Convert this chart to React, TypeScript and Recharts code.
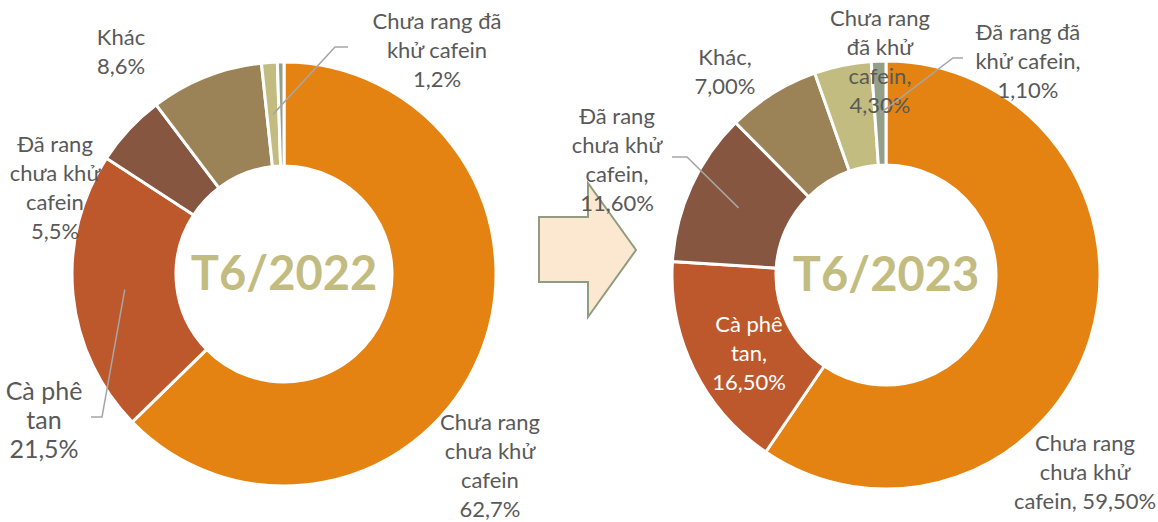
import React from 'react';
import { PieChart, Pie, Cell } from 'recharts';

// ---- data ----
const categories = [
  'Chưa rang chưa khử cafein',
  'Cà phê tan',
  'Đã rang chưa khử cafein',
  'Khác',
  'Chưa rang đã khử cafein',
  'Đã rang đã khử cafein',
];
const values2022 = [62.7, 21.5, 5.5, 8.6, 1.2, 0.5];
const values2023 = [59.5, 16.5, 11.6, 7.0, 4.3, 1.1];
const colors = ['#E48312', '#BD582C', '#865640', '#9B8357', '#C3BC80', '#939F87'];
const titles = ['T6/2022', 'T6/2023'];

// label text, "{v}" is replaced by the value
const lines2022 = [
  ['Chưa rang', 'chưa khử', 'cafein', '{v}'],
  ['Cà phê', 'tan', '{v}'],
  ['Đã rang', 'chưa khử', 'cafein', '{v}'],
  ['Khác', '{v}'],
  ['Chưa rang đã', 'khử cafein', '{v}'],
  [],
];
const lines2023 = [
  ['Chưa rang', 'chưa khử', 'cafein, {v}'],
  ['Cà phê', 'tan,', '{v}'],
  ['Đã rang', 'chưa khử', 'cafein,', '{v}'],
  ['Khác,', '{v}'],
  ['Chưa rang', 'đã khử', 'cafein,', '{v}'],
  ['Đã rang đã', 'khử cafein,', '{v}'],
];

// ---- label layout (offsets from the pie centre) ----
type Lay = { dx: number; dy: number; size?: number; fill?: string; leader?: number[][] } | null;
const layout2022: Lay[] = [
  { dx: 206, dy: 190 },
  { dx: -240, dy: 145, size: 25, leader: [[-182, 143], [-193, 143]] },
  { dx: -229, dy: -88 },
  { dx: -163, dy: -224 },
  { dx: 153, dy: -225, leader: [[51, -227], [64, -227]] },
  null,
];
const layout2023: Lay[] = [
  { dx: 199, dy: 196 },
  { dx: -137, dy: 77, fill: '#FFFFFF' },
  { dx: -269, dy: -117, leader: [[-199, -118], [-214, -118]] },
  { dx: -161, dy: -205 },
  { dx: -6, dy: -215 },
  { dx: 142, dy: -215, leader: [[67, -217], [77, -217]] },
];

const FONT = 'Lato, "Open Sans", sans-serif';
const RAD = Math.PI / 180;
const LINE_H = 29;

const makeLabel = (lines: string[][], layout: Lay[], digits: number, title: string) => (props: any) => {
  const { cx, cy, midAngle, innerRadius, outerRadius, index, value } = props;
  const L = layout[index];
  // the centre title goes with the first slice's label
  const center =
    index === 0 ? (
      <text
        x={cx}
        y={cy - 2}
        textAnchor="middle"
        dominantBaseline="central"
        fontFamily={FONT}
        fontWeight="bold"
        fontSize={47}
        fill="#C3BC80"
      >
        {title}
      </text>
    ) : null;
  if (!L) return <g key={'lbl' + index}>{center}</g>;
  const v = value.toFixed(digits).replace('.', ',') + '%';
  const txt = lines[index].map((s) => s.replace('{v}', v));
  const size = L.size || 22;
  const x = cx + L.dx;
  const y0 = cy + L.dy - ((txt.length - 1) * LINE_H) / 2;
  let leader = null;
  if (L.leader) {
    const r = (innerRadius + outerRadius) / 2;
    const sx = cx + r * Math.cos(-midAngle * RAD);
    const sy = cy + r * Math.sin(-midAngle * RAD);
    const pts = [[sx, sy], ...L.leader.map(([a, b]) => [cx + a, cy + b])];
    leader = (
      <polyline
        points={pts.map((p) => p.join(',')).join(' ')}
        fill="none"
        stroke="#A6A6A6"
        strokeWidth={1.5}
      />
    );
  }
  return (
    <g key={'lbl' + index}>
      {center}
      {leader}
      <text
        x={x}
        y={y0}
        textAnchor="middle"
        dominantBaseline="central"
        fontFamily={FONT}
        fontSize={size}
        fill={L.fill || '#595959'}
      >
        {txt.map((s, i) => (
          <tspan key={i} x={x} y={y0 + i * LINE_H}>
            {s}
          </tspan>
        ))}
      </text>
    </g>
  );
};

const toRows = (vals: number[]) => categories.map((name, i) => ({ name, value: vals[i] }));

export default function App() {
  return (
    <div style={{ position: 'absolute', left: 0, top: 0, width: 1158, height: 522, background: '#fff' }}>
      <svg width={1158} height={522} style={{ position: 'absolute', left: 0, top: 0 }}>
        <polygon
          points="539,217 588,217 588,183 636,250 588,317 588,282 539,282"
          fill="#FCE8D0"
          stroke="#8F9C7F"
          strokeWidth={2}
        />
      </svg>
      <div style={{ position: 'absolute', left: 0, top: 0 }}>
        <PieChart width={1158} height={522} margin={{ top: 0, right: 0, bottom: 0, left: 0 }}>
          <Pie
            data={toRows(values2022)}
            dataKey="value"
            nameKey="name"
            cx={284}
            cy={274}
            innerRadius={108}
            outerRadius={212}
            startAngle={90}
            endAngle={-270}
            stroke="#FFFFFF"
            strokeWidth={3}
            labelLine={false}
            label={makeLabel(lines2022, layout2022, 1, titles[0])}
            isAnimationActive={false}
          >
            {values2022.map((_, i) => (
              <Cell key={i} fill={colors[i]} />
            ))}
          </Pie>
          <Pie
            data={toRows(values2023)}
            dataKey="value"
            nameKey="name"
            cx={886}
            cy={275}
            innerRadius={110}
            outerRadius={214}
            startAngle={90}
            endAngle={-270}
            stroke="#FFFFFF"
            strokeWidth={3}
            labelLine={false}
            label={makeLabel(lines2023, layout2023, 2, titles[1])}
            isAnimationActive={false}
          >
            {values2023.map((_, i) => (
              <Cell key={i} fill={colors[i]} />
            ))}
          </Pie>
        </PieChart>
      </div>
    </div>
  );
}
